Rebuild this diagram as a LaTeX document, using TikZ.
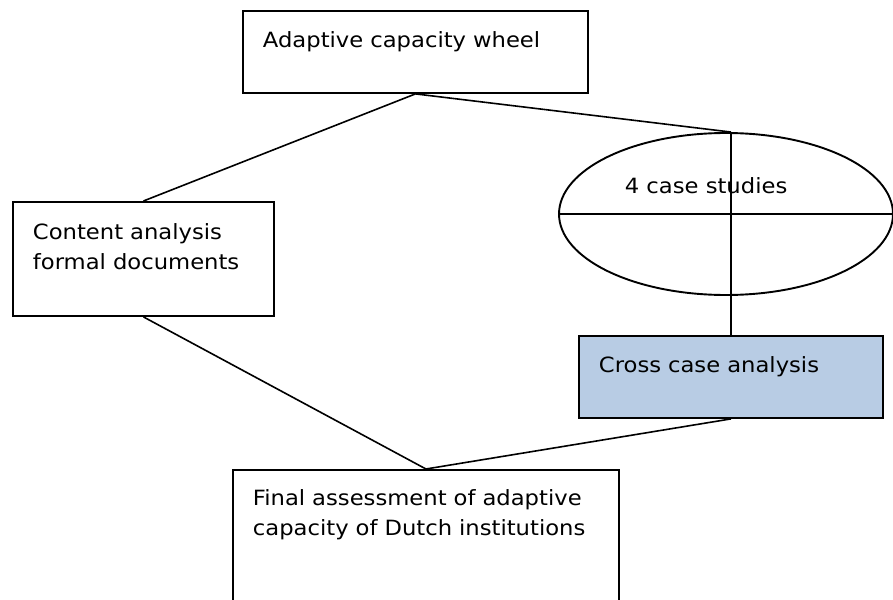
\documentclass[tikz,border=0pt]{standalone}
\usepackage{fontspec}
\setmainfont[FakeStretch=1.08]{DejaVu Sans}
\usepackage{xcolor}
\definecolor{CrossBlue}{RGB}{184, 204, 228}
\usepackage{tikz}
\usetikzlibrary{shapes.geometric}

\begin{document}
\begin{tikzpicture}[x=1pt,y=-1pt,line width=1.6pt,
                    font=\fontsize{21}{29.5}\selectfont]
  \tikzstyle{block}=[draw,line width=1.9pt,anchor=north west,align=left,
                     inner xsep=20pt,inner ysep=0pt]
  \useasboundingbox (0,0) rectangle (893,599);

  \node[block, text width=305pt, text height=36.7pt, text depth=45.3pt] (wheel)   at (242,10)  {Adaptive capacity wheel};
  \node[block, text width=221pt, text height=38pt,   text depth=76pt]   (content) at (12,201)  {Content analysis\\formal documents};
  \node[block, fill=CrossBlue, text width=264pt, text height=37pt, text depth=45pt] (cross) at (578,335) {Cross case analysis};
  \node[block, text width=346pt, text height=36pt,   text depth=115pt]  (final)   at (232,469) {Final assessment of adaptive\\capacity of Dutch institutions};

  \node[ellipse, draw, line width=1.9pt, minimum width=334pt, minimum height=162pt] (cases) at (726,214) {};
  \node[anchor=base west, inner sep=0pt] (casestxt) at (624,193.3) {4 case studies};
  \coordinate (casetop) at (cases.north -| cross.north);

  \path (wheel.south) edge (content.north)
        (wheel.south) edge (casetop)
        (casetop)     edge (cross.north)
        (cases.west)  edge (cases.east)
        (content.south) edge (final.north)
        (cross.south) edge (final.north)
        ;
\end{tikzpicture}
\end{document}
